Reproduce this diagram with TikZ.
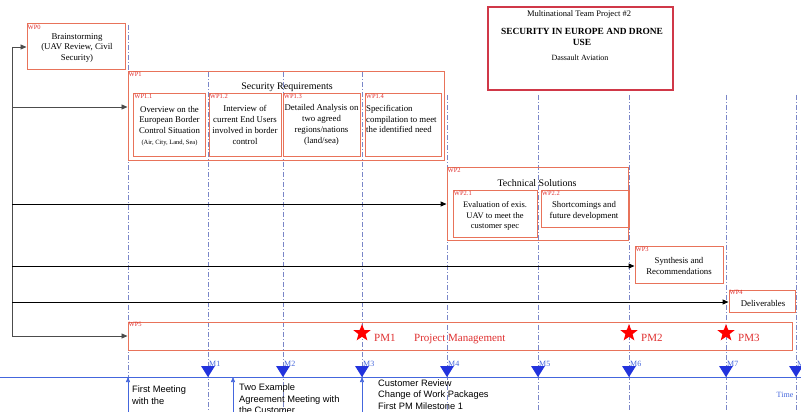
\documentclass[tikz,border=0pt]{standalone}
\usepackage{fontspec}
\setmainfont{Liberation Serif}
\setsansfont{Liberation Sans}
\usetikzlibrary{arrows.meta,shapes.geometric}
\definecolor{wpred}{HTML}{E8735A}
\definecolor{lblred}{HTML}{E03030}
\definecolor{titred}{HTML}{D03848}
\definecolor{tblue}{HTML}{2233DD}
\definecolor{lblue}{HTML}{4466DD}
\definecolor{dashc}{HTML}{7A86C8}
\tikzset{
  wpbox/.style={draw=wpred, line width=1pt},
  subbox/.style={draw=wpred, line width=0.6pt},
  wplabel/.style={text=lblred, font=\fontsize{6.5}{7}\selectfont, anchor=north west, inner sep=1pt},
  boxtext/.style={font=\fontsize{8.8}{10.8}\selectfont, align=center, inner sep=0pt},
  conn/.style={draw=black!70, line width=0.8pt},
  connarr/.style={conn, -{Triangle[length=6pt,width=5pt]}},
  connbk/.style={draw=black, line width=1pt, -{Triangle[length=6pt,width=5pt]}},
  mdash/.style={draw=dashc, line width=0.5pt, dash pattern=on 5pt off 2pt on 1pt off 2pt},
  mtri/.style={fill=tblue, draw=none, isosceles triangle, isosceles triangle apex angle=64, shape border rotate=-90, minimum height=11pt, inner sep=0pt},
  mlabel/.style={text=lblue, font=\fontsize{8}{8}\selectfont, inner sep=0pt, anchor=south west},
  uparr/.style={draw=lblue, line width=0.6pt, -{Triangle[length=5pt,width=4pt]}},
  bottext/.style={font=\sffamily\fontsize{9.3}{11.5}\selectfont, align=left, anchor=north west, inner sep=0pt},
  pmstar/.style={star, star points=5, star point ratio=2.4, fill=red, draw=none, minimum size=18pt, inner sep=0pt},
  pmtext/.style={text=lblred, font=\fontsize{11}{12}\selectfont, anchor=west, inner sep=0pt}
}
\begin{document}
\begin{tikzpicture}[x=1pt,y=-1pt]
\useasboundingbox (0,0) rectangle (801,412);
\fill[white] (0,0) rectangle (801,412);

% milestone dashed lines
\foreach \xx/\ys in {128/25, 208/72, 283/72, 362/72, 447/95, 538/95, 629/95, 726/95, 796/95}
  \draw[mdash] (\xx,\ys) -- (\xx,412);

% title box
\node[draw=titred, line width=1.2pt, minimum width=185pt, minimum height=83pt, inner sep=0pt] (title) at (580.5,48.5) {};
\node[font=\fontsize{8.5}{9}\selectfont, inner sep=0pt] (t1) at (579,14) {Multinational Team Project \#2};
\node[font=\bfseries\fontsize{9.4}{11.5}\selectfont, align=center, inner sep=0pt] (t2) at (582,37) {SECURITY IN EUROPE AND DRONE\\USE};
\node[font=\fontsize{8}{9}\selectfont, inner sep=0pt] (t3) at (580,58) {Dassault Aviation};

% WP0
\node[wpbox, minimum width=98pt, minimum height=46pt, inner sep=0pt] (wp0) at (76,47) {};
\node[wplabel] at (wp0.north west) {WP0};
\node[boxtext] at (77,48) {Brainstorming\\(UAV Review, Civil\\Security)};

% WP1
\node[wpbox, minimum width=316pt, minimum height=88pt, inner sep=0pt] (wp1) at (286,116) {};
\node[wplabel] at (wp1.north west) {WP1};
\node[font=\fontsize{10}{11}\selectfont, inner sep=0pt] (wp1t) at (287,87) {Security Requirements};
\node[subbox, minimum width=72pt, minimum height=63pt, inner sep=0pt] (wp11) at (169.5,125) {};
\node[wplabel] at (wp11.north west) {WP1.1};
\node[boxtext] at (169.5,126) {Overview on the\\European Border\\Control Situation\\{\fontsize{6.5}{8}\selectfont (Air, City, Land, Sea)}};
\node[subbox, minimum width=72pt, minimum height=63pt, inner sep=0pt] (wp12) at (245,125) {};
\node[wplabel] at (wp12.north west) {WP1.2};
\node[boxtext] at (245,125) {Interview of\\current End Users\\involved in border\\control};
\node[subbox, minimum width=77pt, minimum height=63pt, inner sep=0pt] (wp13) at (321.5,125) {};
\node[wplabel] at (wp13.north west) {WP1.3};
\node[boxtext] at (321.5,125) {Detailed Analysis on\\two agreed\\regions/nations\\(land/sea)};
\node[subbox, minimum width=76pt, minimum height=63pt, inner sep=0pt] (wp14) at (403,125) {};
\node[wplabel] at (wp14.north west) {WP1.4};
\node[boxtext, align=left, anchor=north west] at (366,105) {Specification\\compilation to meet\\the identified need};

% WP2
\node[wpbox, minimum width=181pt, minimum height=73pt, inner sep=0pt] (wp2) at (537.5,203.5) {};
\node[wplabel] at (wp2.north west) {WP2};
\node[font=\fontsize{10}{11}\selectfont, inner sep=0pt] (wp2t) at (537,183) {Technical Solutions};
\node[subbox, minimum width=84pt, minimum height=47pt, inner sep=0pt] (wp21) at (495,213.5) {};
\node[wplabel] at (wp21.north west) {WP2.1};
\node[boxtext, font=\fontsize{8.5}{10.5}\selectfont] at (495,216) {Evaluation of exis.\\UAV to meet the\\customer spec};
\node[subbox, minimum width=88pt, minimum height=37pt, inner sep=0pt] (wp22) at (585,208.5) {};
\node[wplabel] at (wp22.north west) {WP2.2};
\node[boxtext] at (584,211) {Shortcomings and\\future development};

% WP3
\node[wpbox, minimum width=88pt, minimum height=37pt, inner sep=0pt] (wp3) at (679,264.5) {};
\node[wplabel] at (wp3.north west) {WP3};
\node[boxtext] at (679,266) {Synthesis and\\Recommendations};

% Deliverables
\node[wpbox, minimum width=66pt, minimum height=22pt, inner sep=0pt] (wp4) at (762,301) {};
\node[wplabel] at (wp4.north west) {WP4};
\node[boxtext] at (763,303) {Deliverables};

% Project management
\node[wpbox, minimum width=664pt, minimum height=28pt, inner sep=0pt] (pm) at (460,336) {};
\node[wplabel] at (pm.north west) {WP5};
\node[pmstar] (s1) at (362,333) {};
\node[pmtext] (pm1) at (374,338) {PM1};
\node[pmtext] (pmt) at (414,339) {Project Management};
\node[pmstar] (s2) at (629,333) {};
\node[pmtext] (pm2) at (641,338) {PM2};
\node[pmstar] (s3) at (726,333) {};
\node[pmtext] (pm3) at (738,338) {PM3};

% left connectors
\coordinate (ltop) at (12,47);
\coordinate (lbot) at (12,336);
\draw[conn] (ltop) -- (lbot);
\draw[connarr] (ltop) -- (wp0.west);
\draw[connarr] (12,107) -- (wp1.west |- 0,107);
\draw[connbk] (12,204) -- (wp2.west |- 0,204);
\draw[connbk] (12,266) -- (wp3.west |- 0,266);
\draw[connbk] (12,302) -- (wp4.west |- 0,302);
\draw[connarr] (lbot) -- (pm.west |- 0,336);

% timeline
\coordinate (tl0) at (0,377);
\coordinate (tl1) at (801,377);
\draw[draw=lblue, line width=0.8pt] (tl0) -- (tl1);
\foreach \xx/\lab in {208/M1, 283/M2, 362/M3, 447/M4, 538/M5, 629/M6, 726/M7, 796/M8} {
  \node[mtri, anchor=south] (tri\lab) at (\xx,377.5) {};
  \node[mlabel] at (\xx+1,367) {\lab};
}
\node[text=lblue, font=\fontsize{8}{8}\selectfont, inner sep=0pt] (time) at (785,395) {Time};

% up arrows and notes
\coordinate (a1) at (128,412);
\coordinate (a2) at (233,412);
\coordinate (a3) at (362,412);
\draw[uparr] (a1) -- (128,377);
\draw[uparr] (a2) -- (233,377);
\draw[uparr] (a3) -- (362,377);
\node[bottext] (n1) at (132,386) {First Meeting\\with the};
\node[bottext] (n2) at (239,384) {Two Example\\Agreement Meeting with\\the Customer};
\node[bottext] (n3) at (378,379.5) {Customer Review\\Change of Work Packages\\First PM Milestone 1};
\end{tikzpicture}
\end{document}
